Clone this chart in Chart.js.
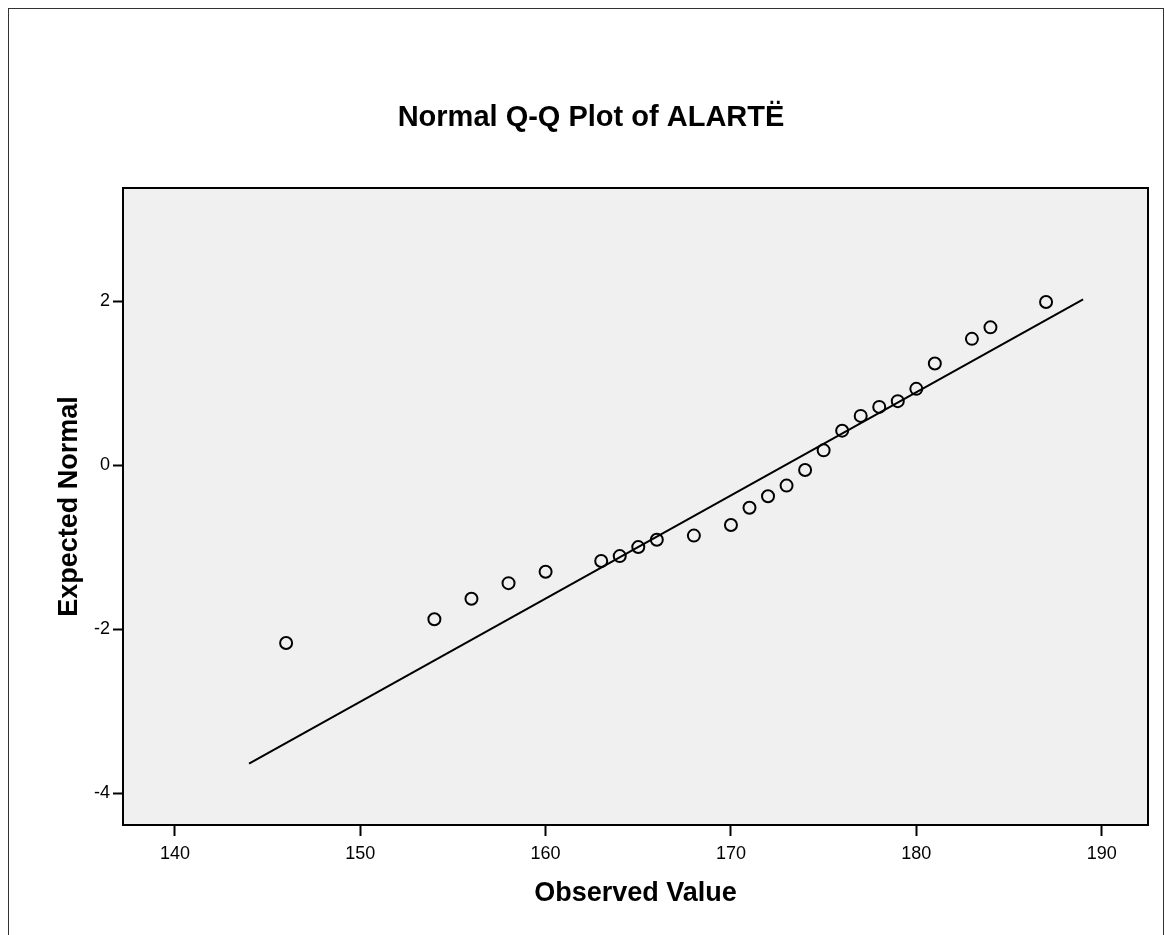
<!DOCTYPE html>
<html>
<head>
<meta charset="utf-8">
<script src="https://cdn.jsdelivr.net/npm/chart.js@4"></script>
<style>
  html, body { margin: 0; padding: 0; background: #fff; }
  #wrap { position: absolute; left: 0; top: 0; width: 1165px; height: 935px; }
  #frame { position: absolute; left: 8px; top: 8px; width: 1154px; height: 1000px; border: 1px solid #333; pointer-events: none; }
</style>
</head>
<body>
<div id="wrap"><canvas id="c"></canvas></div>
<div id="frame"></div>
<script>
const observedValues = [146, 154, 156, 158, 160, 163, 164, 165, 166, 168, 170, 171, 172, 173, 174, 175, 176, 177, 178, 179, 180, 181, 183, 184, 187];
const expectedNormal = [-2.17, -1.88, -1.63, -1.44, -1.30, -1.17, -1.11, -1.00, -0.91, -0.86, -0.73, -0.52, -0.38, -0.25, -0.06, 0.18, 0.42, 0.60, 0.71, 0.78, 0.93, 1.24, 1.54, 1.68, 1.99];
// Reference line endpoints
const lineX = [144, 189];
const lineY = [-3.64, 2.02];
// Axis ticks
const xTicks = [140, 150, 160, 170, 180, 190];
const yTicks = [-4, -2, 0, 2];

const chartTitle = "Normal Q-Q Plot of ALARTË";
const xTitle = "Observed Value";
const yTitle = "Expected Normal";

const FONT = "'Liberation Sans', Arial, sans-serif";

const pts = observedValues.map((v, i) => ({ x: v, y: expectedNormal[i] }));
const linePts = lineX.map((v, i) => ({ x: v, y: lineY[i] }));

const plotBg = {
  id: 'plotBg',
  beforeDraw(chart) {
    const { ctx, chartArea: a } = chart;
    ctx.save();
    ctx.fillStyle = '#F0F0F0';
    ctx.fillRect(a.left, a.top, a.right - a.left, a.bottom - a.top);
    ctx.restore();
  },
  afterDraw(chart) {
    const { ctx, chartArea: a } = chart;
    ctx.save();
    ctx.strokeStyle = '#000';
    ctx.lineWidth = 2;
    ctx.strokeRect(a.left, a.top, a.right - a.left, a.bottom - a.top);
    // chart title
    ctx.fillStyle = '#000';
    ctx.font = 'bold 29px ' + FONT;
    ctx.textAlign = 'center';
    ctx.textBaseline = 'middle';
    ctx.fillText(chartTitle, 591, 118);
    ctx.restore();
  }
};

new Chart(document.getElementById('c'), {
  type: 'scatter',
  data: {
    datasets: [
      {
        data: pts,
        pointStyle: 'circle',
        pointRadius: 6,
        pointBorderWidth: 2,
        pointBorderColor: '#000',
        pointBackgroundColor: 'rgba(0,0,0,0)',
        showLine: false,
        order: 2
      },
      {
        type: 'line',
        data: linePts,
        borderColor: '#000',
        borderWidth: 2,
        pointRadius: 0,
        fill: false,
        order: 1
      }
    ]
  },
  options: {
    responsive: true,
    maintainAspectRatio: false,
    animation: false,
    layout: { padding: { left: 0, right: 17, top: 188, bottom: 0 } },
    plugins: {
      legend: { display: false },
      tooltip: { enabled: false },
      title: { display: false }
    },
    scales: {
      x: {
        type: 'linear',
        min: 137.2,
        max: 192.5,
        afterFit(s) { s.height = 110; },
        afterBuildTicks(s) { s.ticks = xTicks.map(v => ({ value: v })); },
        ticks: { color: '#000', font: { family: FONT, size: 18 }, padding: 7, maxRotation: 0, includeBounds: false },
        grid: { display: true, drawOnChartArea: false, drawTicks: true, tickLength: 11, tickWidth: 2, tickColor: '#000' },
        border: { display: true, color: '#000', width: 2 },
        title: {
          display: true, text: xTitle, color: '#000',
          font: { family: FONT, size: 27, weight: 'bold', lineHeight: 1.2 },
          padding: { top: 0, bottom: 24.8 }
        }
      },
      y: {
        type: 'linear',
        min: -4.39,
        max: 3.38,
        afterFit(s) { s.width = 123; },
        afterBuildTicks(s) { s.ticks = yTicks.map(v => ({ value: v })); },
        ticks: { color: '#000', font: { family: FONT, size: 18 }, padding: 3, includeBounds: false },
        grid: { display: true, drawOnChartArea: false, drawTicks: true, tickLength: 10, tickWidth: 2, tickColor: '#000' },
        border: { display: true, color: '#000', width: 2 },
        title: {
          display: true, text: yTitle, color: '#000',
          font: { family: FONT, size: 27, weight: 'bold', lineHeight: 1.2 },
          padding: { top: 53.8, bottom: 0 }
        }
      }
    }
  },
  plugins: [plotBg]
});
</script>
</body>
</html>
